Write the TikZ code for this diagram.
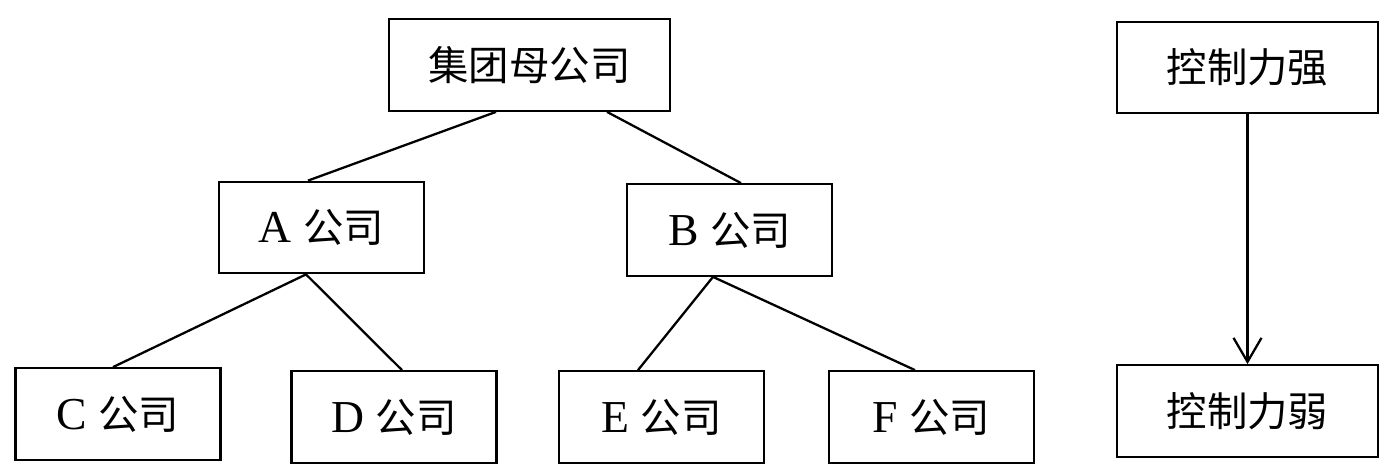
\documentclass[tikz,border=0pt]{standalone}
\usepackage{fontspec}
\setmainfont{Liberation Serif}
\newfontfamily\cjk{Noto Sans CJK SC}
\usepackage{tikz}
\usetikzlibrary{arrows.meta}

\begin{document}
\begin{tikzpicture}[-,line width=1.3pt,font=\fontsize{23}{28}\selectfont]
    \tikzstyle{box}=[shape=rectangle, fill=none, draw=black, text=black, inner sep=0pt, minimum height=1.83cm]
    \tikzstyle{sub}=[box, minimum width=4.1cm, font=\fontsize{26}{30}\selectfont]
    \tikzstyle{ctrl}=[box, minimum width=5.22cm]

    \useasboundingbox (0,0) rectangle (28,9.4);

    \node[box, minimum width=5.62cm] (group) at (10.59,8.10) {\cjk 集团母公司};
    \node[sub]  (ca) at (6.43,4.85)  {A {\cjk\fontsize{23}{28}\selectfont 公司}};
    \node[sub]  (cb) at (14.59,4.80) {B {\cjk\fontsize{23}{28}\selectfont 公司}};
    \node[sub]  (cc) at (2.36,1.12)  {C {\cjk\fontsize{23}{28}\selectfont 公司}};
    \node[sub]  (cd) at (7.88,1.06)  {D {\cjk\fontsize{23}{28}\selectfont 公司}};
    \node[sub]  (ce) at (13.23,1.06) {E {\cjk\fontsize{23}{28}\selectfont 公司}};
    \node[sub]  (cf) at (18.63,1.06) {F {\cjk\fontsize{23}{28}\selectfont 公司}};

    \node[ctrl] (strong) at (24.95,8.05) {\cjk 控制力强};
    \node[ctrl] (weak)   at (24.95,1.18) {\cjk 控制力弱};

    \path
    ([xshift=-0.67cm]group.south) edge ([xshift=-0.27cm]ca.north)
    ([xshift=1.55cm]group.south)  edge ([xshift=0.23cm]cb.north)
    ([xshift=-0.31cm]ca.south)    edge ([xshift=-0.10cm]cc.north)
    ([xshift=-0.31cm]ca.south)    edge ([xshift=0.16cm]cd.north)
    ([xshift=-0.33cm]cb.south)    edge ([xshift=-0.47cm]ce.north)
    ([xshift=-0.33cm]cb.south)    edge ([xshift=-0.33cm]cf.north)
            ;

    \draw[-{Straight Barb[length=4.8mm,width=5.6mm]}] (strong) -- (weak);

\end{tikzpicture}
\end{document}
